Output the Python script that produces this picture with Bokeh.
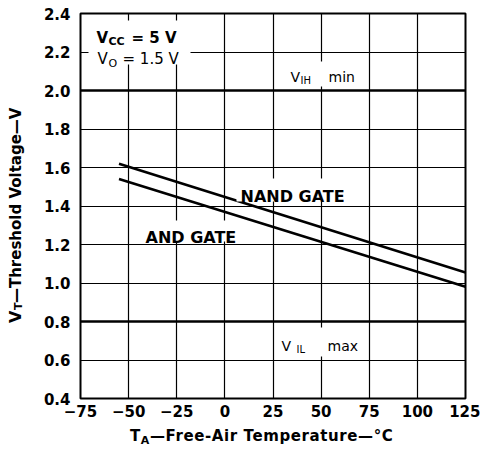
from math import pi
from bokeh.plotting import figure
from bokeh.models import Label, Span, BoxAnnotation, FixedTicker, Range1d, Div
from bokeh.layouts import row, column
from bokeh.embed import file_html
from bokeh.resources import INLINE

# ---- data ----
temps_nand = [-55, 125]
vt_nand = [1.62, 1.055]
temps_and = [-55, 125]
vt_and = [1.54, 0.98]

x_ticks = [-75, -50, -25, 0, 25, 50, 75, 100, 125]
x_tick_labels = ["−75", "−50", "−25", "0", "25", "50", "75", "100", "125"]
y_ticks = [0.4, 0.6, 0.8, 1.0, 1.2, 1.4, 1.6, 1.8, 2.0, 2.2, 2.4]
y_tick_labels = ["0.4", "0.6", "0.8", "1.0", "1.2", "1.4", "1.6", "1.8", "2.0", "2.2", "2.4"]
limit_levels = [2.0, 0.8]   # V_IH min, V_IL max

# ---- layout ----
YT_W = 32                      # width of the y-title strip
XT_H = 22                      # height of the x-title strip
W, H = 448, 428                # figure size
ML, MR, MT, MB = 48, 15, 13, 30
FW = W - ML - MR
FH = H - MT - MB
X0, X1 = -75, 125
Y0, Y1 = 0.4, 2.4
FONT = "DejaVu Sans"
FL = YT_W + ML                 # frame left on the page
FT = MT                        # frame top on the page


def X(px):
    return X0 + (px - FL) * (X1 - X0) / FW


def Y(py):
    return Y1 - (py - FT) * (Y1 - Y0) / FH


p = figure(width=W, height=H, x_range=Range1d(X0, X1), y_range=Range1d(Y0, Y1),
           output_backend="svg", toolbar_location=None, title=None,
           min_border_left=ML, min_border_right=MR, min_border_top=MT, min_border_bottom=MB)
p.background_fill_color = "white"
p.border_fill_color = "white"
p.outline_line_color = "black"
p.outline_line_width = 2

for ax in (p.xaxis, p.yaxis):
    ax.axis_line_color = None
    ax.major_tick_line_color = None
    ax.minor_tick_line_color = None
    ax.major_tick_out = 0
    ax.major_tick_in = 0
    ax.major_label_text_font = FONT
    ax.major_label_text_font_style = "bold"
    ax.major_label_text_font_size = "15px"
    ax.major_label_text_color = "black"

p.xaxis.ticker = FixedTicker(ticks=x_ticks)
p.yaxis.ticker = FixedTicker(ticks=y_ticks)
p.xaxis.major_label_overrides = {t: s for t, s in zip(x_ticks, x_tick_labels)}
p.yaxis.major_label_overrides = {t: s for t, s in zip(y_ticks, y_tick_labels)}
p.xaxis.major_label_standoff = 6
p.yaxis.major_label_standoff = 10

p.xgrid.ticker = FixedTicker(ticks=x_ticks)
p.ygrid.ticker = FixedTicker(ticks=y_ticks)
for g in (p.xgrid, p.ygrid):
    g.grid_line_color = "black"
    g.grid_line_width = 1.2
    g.grid_line_alpha = 1.0

for lv in limit_levels:
    p.add_layout(Span(location=lv, dimension="width", line_color="black", line_width=2.4))

p.line(temps_nand, vt_nand, line_color="black", line_width=2.6)
p.line(temps_and, vt_and, line_color="black", line_width=2.6)

# white boxes behind in-plot texts
boxes = [(88, 190, 20, 64), (282, 366, 61, 86), (275, 366, 327, 356),
         (236, 352, 178, 201), (140, 245, 220, 241)]
for l, r, t, b in boxes:
    p.add_layout(BoxAnnotation(left=X(l), right=X(r), top=Y(t), bottom=Y(b),
                               fill_color="white", fill_alpha=1.0, line_color=None))


def lab(text, px, py, size, bold=False):
    p.add_layout(Label(x=X(px), y=Y(py), text=text, text_font=FONT,
                       text_font_size=f"{size}px",
                       text_font_style="bold" if bold else "normal",
                       text_color="black", text_align="left",
                       text_baseline="alphabetic"))


# conditions
lab("V", 96, 37, 15, True)
lab("CC", 108, 41, 11, True)
lab("= 5 V", 131, 37, 15, True)
lab("V", 97, 58, 15)
lab("O", 108, 63, 11)
lab("= 1.5 V", 122, 58, 15)

# limits
lab("V", 290, 76, 14)
lab("IH", 300, 80, 10)
lab("min", 328, 76, 14)
lab("V", 281, 345, 14)
lab("IL", 296, 349, 10)
lab("max", 327, 345, 14)

# curve labels
lab("NAND GATE", 240, 196, 16, True)
lab("AND GATE", 145, 237, 16, True)

# axis titles (HTML text, with subscripts)
ytitle = Div(
    text=('<div style="writing-mode:vertical-rl; transform:rotate(180deg); '
          f'height:{H}px; width:{YT_W}px; line-height:{YT_W}px; text-align:center; '
          "font-family:'DejaVu Sans'; font-weight:bold; font-size:15px; "
          'white-space:nowrap; color:black; padding-bottom:2px; box-sizing:border-box;">'
          '<span style="font-size:16px">V</span>'
          '<span style="font-size:11px; position:relative; left:-3px;">T</span>'
          '—Threshold Voltage—V</div>'),
    width=YT_W, height=H, margin=0)

xtitle = Div(
    text=("<div style=\"font-family:'DejaVu Sans'; font-weight:bold; font-size:15px; "
          'letter-spacing:0.6px; line-height:15px; white-space:nowrap; color:black; '
          'padding-left:98px; padding-top:1px;">'
          'T<span style="font-size:11px; position:relative; top:3px;">A</span>'
          '—Free-Air Temperature—°C</div>'),
    width=W, height=XT_H, margin=0)

layout = row(ytitle, column(p, xtitle, spacing=0), spacing=0)

open("out.html", "w").write(file_html(layout, INLINE))
